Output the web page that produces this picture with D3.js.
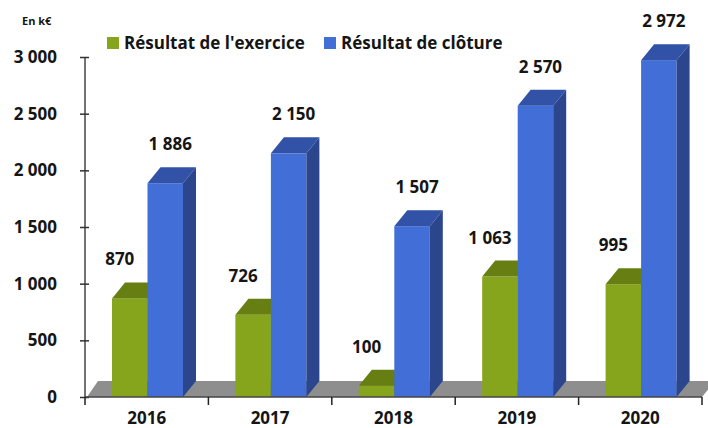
<!DOCTYPE html>
<html>
<head>
<meta charset="utf-8">
<script src="https://cdn.jsdelivr.net/npm/d3@7"></script>
<style>
  body { margin: 0; background: #fff; }
  text { font-family: 'Open Sans', 'Liberation Sans', sans-serif; font-weight: bold; fill: #151515; }
</style>
</head>
<body>
<svg id="chart" width="708" height="428"></svg>
<script>
const years = ['2016', '2017', '2018', '2019', '2020'];
const seriesNames = ["Résultat de l'exercice", 'Résultat de clôture'];
const exercice = [870, 726, 100, 1063, 995];
const cloture = [1886, 2150, 1507, 2570, 2972];
const yTicks = [0, 500, 1000, 1500, 2000, 2500, 3000];

const colors = [
  { front: '#86a51c', top: '#677e12', side: '#5a6e10' },
  { front: '#426ed8', top: '#3152a6', side: '#2b468c' }
];

const svg = d3.select('#chart'),
  margin = { top: 57, right: 6, bottom: 31, left: 85 },
  width = +svg.attr('width'),
  height = +svg.attr('height');

const depth = { dx: 13, dy: -16 };
const fmt = v => d3.format(',')(v).replace(/,/g, ' ');

const x = d3.scaleBand().domain(years).range([margin.left, width - margin.right]);
const xs = d3.scaleBand().domain(seriesNames).range([27, 98]);
const y = d3.scaleLinear().domain([0, 3000]).range([height - margin.bottom, margin.top]);

const y0 = y(0);

// floor
svg.append('path')
  .attr('fill', '#8e8e8e')
  .attr('d', `M${x.range()[0] + 2},${y0} L${x.range()[1]},${y0} L${x.range()[1] + depth.dx},${y0 + depth.dy} L${x.range()[0] + depth.dx},${y0 + depth.dy} Z`);

// bars
const rows = years.map((yr, i) => ({ year: yr, values: [exercice[i], cloture[i]] }));

const groups = svg.append('g').selectAll('g')
  .data(rows)
  .join('g')
  .attr('transform', d => `translate(${x(d.year)},0)`);

groups.each(function (d) {
  const g = d3.select(this);
  d.values.forEach((v, k) => {
    const bx = xs(seriesNames[k]), bw = xs.bandwidth(), top = y(v);
    const c = colors[k];
    g.append('rect').attr('x', bx).attr('y', top).attr('width', bw).attr('height', y0 - top).attr('fill', c.front);
    g.append('path').attr('fill', c.top)
      .attr('d', `M${bx},${top} L${bx + depth.dx},${top + depth.dy} L${bx + bw + depth.dx},${top + depth.dy} L${bx + bw},${top} Z`);
    g.append('path').attr('fill', c.side)
      .attr('d', `M${bx + bw},${top} L${bx + bw + depth.dx},${top + depth.dy} L${bx + bw + depth.dx},${y0 + depth.dy} L${bx + bw},${y0} Z`);
  });
});

// value labels
groups.each(function (d) {
  const g = d3.select(this);
  d.values.forEach((v, k) => {
    const cx = xs(seriesNames[k]) + xs.bandwidth() / 2 + (k === 0 ? -10 : 5);
    g.append('text')
      .attr('x', cx)
      .attr('y', y(v) - 33)
      .attr('text-anchor', 'middle')
      .attr('font-size', 17)
      .text(fmt(v));
  });
});

// y axis
const yAxis = svg.append('g')
  .attr('transform', `translate(${margin.left},0)`)
  .call(d3.axisLeft(y).tickValues(yTicks).tickFormat(fmt).tickSize(5).tickPadding(23));
yAxis.select('.domain').attr('stroke', '#444').attr('stroke-width', 1.5).attr('d', `M0,${y(3000)}V${y0}`);
yAxis.selectAll('.tick line').attr('x1', 4).attr('x2', -5).attr('stroke', '#333').attr('stroke-width', 1.5);
yAxis.selectAll('.tick text').attr('font-size', 17).attr('font-family', null).attr('fill', null);

// x axis
const xAxis = svg.append('g');
xAxis.append('line')
  .attr('x1', x.range()[0]).attr('x2', x.range()[1])
  .attr('y1', y0).attr('y2', y0)
  .attr('stroke', '#444').attr('stroke-width', 1.5);
xAxis.selectAll('line.tk')
  .data(years.map(d => x(d)).concat([x.range()[1]]))
  .join('line')
  .attr('class', 'tk')
  .attr('x1', d => d).attr('x2', d => d)
  .attr('y1', y0).attr('y2', y0 + 8)
  .attr('stroke', '#222').attr('stroke-width', 1.5);
xAxis.selectAll('text')
  .data(years)
  .join('text')
  .attr('x', d => x(d) + x.bandwidth() / 2)
  .attr('y', height - 4)
  .attr('text-anchor', 'middle')
  .attr('font-size', 17)
  .text(d => d);

// unit
svg.append('text').attr('x', 22).attr('y', 25).attr('font-size', 11).text('En k€');

// legend
const legendX = [107, 324];
const legend = svg.append('g').selectAll('g')
  .data(seriesNames)
  .join('g')
  .attr('transform', (d, i) => `translate(${legendX[i]},37)`);
legend.append('rect').attr('width', 12).attr('height', 12).attr('fill', (d, i) => colors[i].front);
legend.append('text').attr('x', 17).attr('y', 12).attr('font-size', 17).text(d => d);
</script>
</body>
</html>
